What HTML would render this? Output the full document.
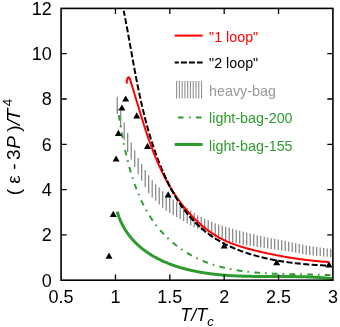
<!DOCTYPE html>
<html><head><meta charset="utf-8"><style>
html,body{margin:0;padding:0;background:#fff;}
svg{display:block;will-change:transform}
text{font-family:"Liberation Sans",sans-serif;}
</style></head><body>
<svg width="340" height="327" viewBox="0 0 340 327">
<rect width="340" height="327" fill="#fff"/>
<g stroke="#808080" stroke-width="1.2"><line x1="117.20" x2="117.20" y1="96.70" y2="113.90"/><line x1="120.70" x2="120.70" y1="110.50" y2="127.30"/><line x1="124.20" x2="124.20" y1="122.48" y2="139.95"/><line x1="127.70" x2="127.70" y1="132.72" y2="152.24"/><line x1="131.20" x2="131.20" y1="142.45" y2="159.39"/><line x1="134.70" x2="134.70" y1="150.18" y2="166.99"/><line x1="138.20" x2="138.20" y1="158.00" y2="174.30"/><line x1="141.70" x2="141.70" y1="164.11" y2="180.81"/><line x1="145.20" x2="145.20" y1="170.00" y2="187.00"/><line x1="148.70" x2="148.70" y1="175.35" y2="193.23"/><line x1="152.20" x2="152.20" y1="180.23" y2="197.38"/><line x1="155.70" x2="155.70" y1="184.50" y2="200.80"/><line x1="159.20" x2="159.20" y1="187.59" y2="204.60"/><line x1="162.70" x2="162.70" y1="191.20" y2="207.69"/><line x1="166.20" x2="166.20" y1="194.42" y2="210.67"/><line x1="169.70" x2="169.70" y1="197.10" y2="212.97"/><line x1="173.20" x2="173.20" y1="199.56" y2="215.26"/><line x1="176.70" x2="176.70" y1="201.87" y2="217.20"/><line x1="180.20" x2="180.20" y1="204.06" y2="219.10"/><line x1="183.70" x2="183.70" y1="206.21" y2="221.00"/><line x1="187.20" x2="187.20" y1="208.35" y2="223.30"/><line x1="190.70" x2="190.70" y1="210.55" y2="225.36"/><line x1="194.20" x2="194.20" y1="212.87" y2="227.25"/><line x1="197.70" x2="197.70" y1="215.30" y2="228.64"/><line x1="201.20" x2="201.20" y1="217.00" y2="230.34"/><line x1="204.70" x2="204.70" y1="218.80" y2="232.25"/><line x1="208.20" x2="208.20" y1="220.14" y2="234.20"/><line x1="211.70" x2="211.70" y1="221.74" y2="236.02"/><line x1="215.20" x2="215.20" y1="223.14" y2="237.54"/><line x1="218.70" x2="218.70" y1="224.53" y2="238.79"/><line x1="222.20" x2="222.20" y1="225.50" y2="239.91"/><line x1="225.70" x2="225.70" y1="226.80" y2="240.92"/><line x1="229.20" x2="229.20" y1="227.70" y2="241.82"/><line x1="232.70" x2="232.70" y1="228.80" y2="242.63"/><line x1="236.20" x2="236.20" y1="229.87" y2="243.36"/><line x1="239.70" x2="239.70" y1="230.68" y2="244.03"/><line x1="243.20" x2="243.20" y1="231.57" y2="244.65"/><line x1="246.70" x2="246.70" y1="232.50" y2="245.23"/><line x1="250.20" x2="250.20" y1="233.44" y2="245.78"/><line x1="253.70" x2="253.70" y1="234.33" y2="246.33"/><line x1="257.20" x2="257.20" y1="235.16" y2="246.88"/><line x1="260.70" x2="260.70" y1="235.94" y2="247.44"/><line x1="264.20" x2="264.20" y1="236.69" y2="247.99"/><line x1="267.70" x2="267.70" y1="237.42" y2="248.53"/><line x1="271.20" x2="271.20" y1="238.15" y2="249.05"/><line x1="274.70" x2="274.70" y1="238.86" y2="249.55"/><line x1="278.20" x2="278.20" y1="239.56" y2="250.05"/><line x1="281.70" x2="281.70" y1="240.28" y2="250.54"/><line x1="285.20" x2="285.20" y1="241.02" y2="251.05"/><line x1="288.70" x2="288.70" y1="241.81" y2="251.56"/><line x1="292.20" x2="292.20" y1="242.58" y2="252.08"/><line x1="295.70" x2="295.70" y1="243.31" y2="252.66"/><line x1="299.20" x2="299.20" y1="244.04" y2="253.29"/><line x1="302.70" x2="302.70" y1="244.74" y2="253.91"/><line x1="306.20" x2="306.20" y1="245.40" y2="254.50"/><line x1="309.70" x2="309.70" y1="246.00" y2="255.00"/><line x1="313.20" x2="313.20" y1="246.54" y2="255.41"/><line x1="316.70" x2="316.70" y1="247.04" y2="255.76"/><line x1="320.20" x2="320.20" y1="247.50" y2="256.09"/><line x1="323.70" x2="323.70" y1="247.95" y2="256.43"/><line x1="327.20" x2="327.20" y1="248.39" y2="256.79"/><line x1="330.70" x2="330.70" y1="248.80" y2="257.20"/></g>
<path d="M117.21 211.63 L117.40 212.27 L117.60 212.91 L117.80 213.54 L118.00 214.17 L118.21 214.79 L118.42 215.41 L118.64 216.03 L118.86 216.64 L119.08 217.25 L119.32 217.85 L119.55 218.45 L119.79 219.04 L120.03 219.63 L120.28 220.22 L120.53 220.80 L120.79 221.38 L121.05 221.96 L121.32 222.53 L121.59 223.10 L121.86 223.66 L122.14 224.22 L122.42 224.77 L122.71 225.32 L123.00 225.87 L123.29 226.41 L123.59 226.95 L123.89 227.49 L124.20 228.02 L124.51 228.55 L124.82 229.07 L125.14 229.59 L125.46 230.11 L125.78 230.62 L126.11 231.13 L126.45 231.63 L126.78 232.13 L127.12 232.63 L127.47 233.12 L127.82 233.61 L128.17 234.10 L128.52 234.58 L128.88 235.06 L129.24 235.54 L129.61 236.01 L129.98 236.48 L130.35 236.94 L130.73 237.40 L131.10 237.86 L131.49 238.31 L131.87 238.76 L132.26 239.21 L132.65 239.65 L133.05 240.09 L133.45 240.52 L133.85 240.96 L134.26 241.39 L134.67 241.81 L135.08 242.23 L135.49 242.65 L135.91 243.07 L136.33 243.48 L136.75 243.89 L137.18 244.29 L137.61 244.69 L138.04 245.09 L138.48 245.48 L138.92 245.88 L139.36 246.26 L139.80 246.65 L140.25 247.03 L140.70 247.41 L141.15 247.78 L141.60 248.16 L142.06 248.52 L142.52 248.89 L142.98 249.25 L143.45 249.61 L143.92 249.97 L144.39 250.32 L144.86 250.67 L145.34 251.02 L145.81 251.36 L146.29 251.70 L146.78 252.04 L147.26 252.37 L147.75 252.70 L148.24 253.03 L148.73 253.35 L149.22 253.68 L149.72 253.99 L150.22 254.31 L150.72 254.62 L151.22 254.93 L151.72 255.24 L152.23 255.54 L152.74 255.85 L153.25 256.14 L153.76 256.44 L154.28 256.73 L154.79 257.02 L155.31 257.31 L155.83 257.59 L156.35 257.87 L156.88 258.15 L157.40 258.43 L157.93 258.70 L158.46 258.97 L158.99 259.24 L159.52 259.50 L160.06 259.76 L160.59 260.02 L161.13 260.28 L161.67 260.53 L162.21 260.78 L162.75 261.03 L163.29 261.28 L163.84 261.52 L164.38 261.76 L164.93 262.00 L165.48 262.24 L166.03 262.47 L166.58 262.70 L167.13 262.93 L167.69 263.15 L168.24 263.37 L168.80 263.60 L169.36 263.81 L169.91 264.03 L170.47 264.24 L171.03 264.45 L171.60 264.66 L172.16 264.87 L172.72 265.07 L173.29 265.27 L173.85 265.47 L174.42 265.66 L174.99 265.86 L175.55 266.05 L176.12 266.24 L176.69 266.42 L177.26 266.61 L177.83 266.79 L178.41 266.97 L178.98 267.15 L179.55 267.32 L180.13 267.50 L180.70 267.67 L181.28 267.84 L181.85 268.01 L182.43 268.17 L183.01 268.33 L183.59 268.49 L184.17 268.65 L184.75 268.81 L185.33 268.96 L185.91 269.11 L186.49 269.26 L187.07 269.41 L187.66 269.56 L188.24 269.70 L188.82 269.84 L189.41 269.98 L189.99 270.12 L190.58 270.26 L191.17 270.39 L191.76 270.52 L192.34 270.65 L192.93 270.78 L193.52 270.91 L194.11 271.03 L194.70 271.15 L195.29 271.27 L195.89 271.39 L196.48 271.51 L197.07 271.63 L197.66 271.74 L198.26 271.85 L198.85 271.96 L199.45 272.07 L200.04 272.18 L200.64 272.28 L201.24 272.38 L201.83 272.48 L202.43 272.58 L203.03 272.68 L203.63 272.78 L204.23 272.87 L204.82 272.97 L205.42 273.06 L206.02 273.15 L206.63 273.24 L207.23 273.32 L207.83 273.41 L208.43 273.49 L209.03 273.57 L209.64 273.65 L210.24 273.73 L210.84 273.81 L211.45 273.89 L212.05 273.96 L212.66 274.04 L213.26 274.11 L213.87 274.18 L214.47 274.25 L215.08 274.31 L215.69 274.38 L216.30 274.45 L216.90 274.51 L217.51 274.57 L218.12 274.63 L218.73 274.69 L219.34 274.75 L219.95 274.81 L220.56 274.86 L221.17 274.92 L221.78 274.97 L222.39 275.02 L223.00 275.07 L223.61 275.12 L224.22 275.17 L224.83 275.22 L225.44 275.27 L226.05 275.31 L226.67 275.36 L227.28 275.40 L227.89 275.44 L228.51 275.48 L229.12 275.52 L229.73 275.56 L230.35 275.60 L230.96 275.63 L231.57 275.67 L232.19 275.70 L232.80 275.74 L233.42 275.77 L234.03 275.80 L234.65 275.83 L235.26 275.86 L235.88 275.89 L236.49 275.92 L237.11 275.95 L237.72 275.97 L238.34 276.00 L238.96 276.02 L239.57 276.05 L240.19 276.07 L240.80 276.09 L241.42 276.12 L242.04 276.14 L242.65 276.16 L243.27 276.18 L243.89 276.19 L244.50 276.21 L245.12 276.23 L245.74 276.25 L246.35 276.26 L246.97 276.28 L247.59 276.29 L248.20 276.30 L248.82 276.32 L249.44 276.33 L250.06 276.34 L250.67 276.35 L251.29 276.36 L251.91 276.38 L252.52 276.39 L253.14 276.39 L253.76 276.40 L254.38 276.41 L254.99 276.42 L255.61 276.43 L256.23 276.43 L256.84 276.44 L257.46 276.45 L258.08 276.45 L258.69 276.46 L259.31 276.46 L259.93 276.47 L260.54 276.47 L261.16 276.48 L261.77 276.48 L262.39 276.48 L263.01 276.49 L263.62 276.49 L264.24 276.49 L264.85 276.49 L265.47 276.50 L266.08 276.50 L266.70 276.50 L267.31 276.50 L267.93 276.50 L268.54 276.50 L269.16 276.50 L269.77 276.51 L270.38 276.51 L271.00 276.51 L271.61 276.51 L272.22 276.51 L272.84 276.51 L273.45 276.51 L274.06 276.51 L274.68 276.51 L275.29 276.51 L275.90 276.51 L276.51 276.51 L277.12 276.51 L277.73 276.51 L278.34 276.51 L278.95 276.51 L279.56 276.51 L280.17 276.51 L280.78 276.51 L281.39 276.52 L282.00 276.52 L282.61 276.52 L283.22 276.52 L283.83 276.52 L284.44 276.52 L285.04 276.53 L285.65 276.53 L286.26 276.53 L286.86 276.53 L287.47 276.54 L288.07 276.54 L288.68 276.54 L289.28 276.55 L289.89 276.55 L290.49 276.56 L291.10 276.56 L291.70 276.57 L292.30 276.57 L292.90 276.58 L293.50 276.59 L294.11 276.59 L294.71 276.60 L295.31 276.61 L295.91 276.62 L296.51 276.63 L297.11 276.64 L297.70 276.65 L298.30 276.66 L298.90 276.67 L299.50 276.68 L300.09 276.69 L300.69 276.70 L301.29 276.72 L301.88 276.73 L302.48 276.75 L303.07 276.76 L303.66 276.78 L304.26 276.79 L304.85 276.81 L305.44 276.83 L306.03 276.85 L306.62 276.87 L307.21 276.89 L307.80 276.91 L308.39 276.93 L308.98 276.95 L309.57 276.98 L310.15 277.00 L310.74 277.02 L311.33 277.05 L311.91 277.08 L312.50 277.10 L313.08 277.13 L313.66 277.16 L314.25 277.19 L314.83 277.22 L315.41 277.26 L315.99 277.29 L316.57 277.32 L317.15 277.36 L317.73 277.39 L318.31 277.43 L318.88 277.47 L319.46 277.51 L320.04 277.55 L320.61 277.59 L321.18 277.63 L321.76 277.67 L322.33 277.72 L322.90 277.76 L323.47 277.81 L324.04 277.86 L324.61 277.91 L325.18 277.96 L325.75 278.01 L326.32 278.06 L326.89 278.11 L327.45 278.17 L328.02 278.22 L328.58 278.28 L329.15 278.34 L329.71 278.40 L330.27 278.46 L330.83 278.52 L331.39 278.59 L331.95 278.65" fill="none" stroke="#2e9b2e" stroke-width="3"/>
<path d="M117.88 109.02 L117.94 109.37 L117.99 109.73 L118.05 110.08 L118.10 110.44 L118.16 110.80 L118.21 111.16 L118.27 111.52 L118.32 111.88 L118.38 112.24 L118.43 112.60 L118.49 112.96 L118.55 113.32 L118.60 113.68 L118.66 114.04 L118.72 114.41 L118.77 114.77 L118.83 115.14 L118.89 115.50 L118.94 115.87 L119.00 116.23 L119.06 116.60 L119.12 116.97 L119.17 117.33 L119.23 117.70 L119.29 118.07 L119.35 118.44 L119.41 118.81 L119.47 119.18 L119.53 119.55 L119.59 119.92 L119.65 120.29 L119.71 120.66 L119.77 121.03 L119.83 121.41 L119.89 121.78 L119.95 122.15 L120.01 122.53 L120.07 122.90 L120.13 123.28 L120.19 123.65 L120.26 124.03 L120.32 124.40 L120.38 124.78 L120.44 125.15 L120.51 125.53 L120.57 125.91 L120.63 126.29 L120.70 126.67 L120.76 127.04 L120.83 127.42 L120.89 127.80 L120.96 128.18 L121.02 128.56 L121.09 128.94 L121.15 129.32 L121.22 129.70 L121.28 130.09 L121.35 130.47 L121.42 130.85 L121.49 131.23 L121.55 131.61 L121.62 132.00 L121.69 132.38 L121.76 132.76 L121.83 133.15 L121.90 133.53 L121.96 133.92 L122.03 134.30 L122.10 134.69 L122.17 135.07 L122.25 135.46 L122.32 135.84 L122.39 136.23 L122.46 136.62 L122.53 137.00 L122.60 137.39 L122.68 137.78 L122.75 138.16 L122.82 138.55 L122.90 138.94 L122.97 139.33 L123.05 139.71 L123.12 140.10 L123.20 140.49 L123.27 140.88 L123.35 141.27 L123.42 141.66 L123.50 142.05 L123.58 142.44 L123.66 142.83 L123.73 143.22 L123.81 143.61 L123.89 144.00 L123.97 144.39 L124.05 144.78 L124.13 145.17 L124.21 145.56 L124.29 145.95 L124.37 146.34 L124.45 146.73 L124.53 147.12 L124.62 147.51 L124.70 147.91 L124.78 148.30 L124.87 148.69 L124.95 149.08 L125.04 149.47 L125.12 149.86 L125.21 150.26 L125.29 150.65 L125.38 151.04 L125.46 151.43 L125.55 151.82 L125.64 152.22 L125.73 152.61 L125.82 153.00 L125.90 153.39 L125.99 153.79 L126.08 154.18 L126.17 154.57 L126.27 154.96 L126.36 155.36 L126.45 155.75 L126.54 156.14 L126.63 156.54 L126.73 156.93 L126.82 157.32 L126.92 157.71 L127.01 158.11 L127.11 158.50 L127.20 158.89 L127.30 159.28 L127.39 159.68 L127.49 160.07 L127.59 160.46 L127.69 160.85 L127.79 161.25 L127.89 161.64 L127.99 162.03 L128.09 162.42 L128.19 162.81 L128.29 163.21 L128.39 163.60 L128.49 163.99 L128.60 164.38 L128.70 164.77 L128.80 165.16 L128.91 165.56 L129.01 165.95 L129.12 166.34 L129.23 166.73 L129.33 167.12 L129.44 167.51 L129.55 167.90 L129.66 168.29 L129.77 168.68 L129.88 169.07 L129.99 169.46 L130.10 169.85 L130.21 170.24 L130.32 170.63 L130.44 171.02 L130.55 171.41 L130.66 171.80 L130.78 172.19 L130.89 172.58 L131.01 172.97 L131.13 173.35 L131.24 173.74 L131.36 174.13 L131.48 174.52 L131.60 174.91 L131.72 175.29 L131.84 175.68 L131.96 176.07 L132.08 176.45 L132.20 176.84 L132.32 177.23 L132.45 177.61 L132.57 178.00 L132.70 178.38 L132.82 178.77 L132.95 179.15 L133.07 179.54 L133.20 179.92 L133.33 180.30 L133.46 180.69 L133.59 181.07 L133.72 181.45 L133.85 181.84 L133.98 182.22 L134.11 182.60 L134.24 182.98 L134.38 183.36 L134.51 183.74 L134.64 184.12 L134.78 184.50 L134.92 184.88 L135.05 185.26 L135.19 185.64 L135.33 186.02 L135.47 186.40 L135.61 186.78 L135.75 187.16 L135.89 187.53 L136.03 187.91 L136.17 188.29 L136.32 188.66 L136.46 189.04 L136.60 189.42 L136.75 189.79 L136.90 190.16 L137.04 190.54 L137.19 190.91 L137.34 191.29 L137.49 191.66 L137.64 192.03 L137.79 192.40 L137.94 192.77 L138.09 193.15 L138.24 193.52 L138.40 193.89 L138.55 194.26 L138.71 194.63 L138.86 194.99 L139.02 195.36 L139.18 195.73 L139.34 196.10 L139.49 196.46 L139.65 196.83 L139.81 197.20 L139.98 197.56 L140.14 197.93 L140.30 198.29 L140.47 198.65 L140.63 199.02 L140.80 199.38 L140.96 199.74 L141.13 200.10 L141.30 200.47 L141.46 200.83 L141.63 201.19 L141.80 201.55 L141.98 201.90 L142.15 202.26 L142.32 202.62 L142.49 202.98 L142.67 203.33 L142.84 203.69 L143.02 204.04 L143.20 204.40 L143.38 204.75 L143.55 205.11 L143.73 205.46 L143.91 205.81 L144.10 206.16 L144.28 206.51 L144.46 206.86 L144.64 207.21 L144.83 207.56 L145.02 207.91 L145.20 208.26 L145.39 208.61 L145.58 208.95 L145.77 209.30 L145.96 209.64 L146.15 209.99 L146.34 210.33 L146.53 210.67 L146.73 211.02 L146.92 211.36 L147.12 211.70 L147.31 212.04 L147.51 212.38 L147.71 212.72 L147.91 213.06 L148.11 213.39 L148.31 213.73 L148.51 214.07 L148.71 214.40 L148.92 214.73 L149.12 215.07 L149.33 215.40 L149.53 215.73 L149.74 216.06 L149.95 216.40 L150.16 216.73 L150.37 217.05 L150.58 217.38 L150.79 217.71 L151.01 218.04 L151.22 218.36 L151.44 218.69 L151.65 219.01 L151.87 219.33 L152.09 219.66 L152.31 219.98 L152.53 220.30 L152.75 220.62 L152.97 220.94 L153.19 221.26 L153.42 221.58 L153.64 221.89 L153.87 222.21 L154.10 222.52 L154.32 222.84 L154.55 223.15 L154.78 223.46 L155.01 223.77 L155.25 224.08 L155.48 224.39 L155.71 224.70 L155.95 225.01 L156.19 225.32 L156.42 225.62 L156.66 225.93 L156.90 226.23 L157.14 226.54 L157.38 226.84 L157.62 227.14 L157.87 227.44 L158.11 227.74 L158.36 228.04 L158.60 228.34 L158.85 228.64 L159.10 228.93 L159.35 229.23 L159.60 229.52 L159.85 229.81 L160.10 230.11 L160.36 230.40 L160.61 230.69 L160.87 230.98 L161.12 231.27 L161.38 231.55 L161.64 231.84 L161.90 232.13 L162.16 232.41 L162.42 232.70 L162.68 232.98 L162.94 233.26 L163.20 233.54 L163.47 233.82 L163.73 234.10 L164.00 234.38 L164.27 234.66 L164.54 234.93 L164.81 235.21 L165.08 235.48 L165.35 235.76 L165.62 236.03 L165.89 236.30 L166.17 236.57 L166.44 236.84 L166.72 237.11 L166.99 237.38 L167.27 237.64 L167.55 237.91 L167.83 238.17 L168.11 238.44 L168.39 238.70 L168.67 238.96 L168.95 239.22 L169.24 239.48 L169.52 239.74 L169.81 240.00 L170.09 240.26 L170.38 240.51 L170.67 240.77 L170.96 241.02 L171.25 241.28 L171.54 241.53 L171.83 241.78 L172.12 242.03 L172.41 242.28 L172.71 242.53 L173.00 242.77 L173.30 243.02 L173.59 243.26 L173.89 243.51 L174.19 243.75 L174.49 243.99 L174.79 244.23 L175.09 244.47 L175.39 244.71 L175.69 244.95 L175.99 245.19 L176.30 245.42 L176.60 245.66 L176.91 245.89 L177.21 246.13 L177.52 246.36 L177.83 246.59 L178.14 246.82 L178.44 247.05 L178.75 247.28 L179.07 247.50 L179.38 247.73 L179.69 247.95 L180.00 248.18 L180.32 248.40 L180.63 248.62 L180.95 248.84 L181.26 249.06 L181.58 249.28 L181.90 249.50 L182.21 249.71 L182.53 249.93 L182.85 250.14 L183.17 250.36 L183.49 250.57 L183.82 250.78 L184.14 250.99 L184.46 251.20 L184.78 251.41 L185.11 251.61 L185.43 251.82 L185.76 252.03 L186.09 252.23 L186.42 252.43 L186.74 252.63 L187.07 252.83 L187.40 253.03 L187.73 253.23 L188.06 253.43 L188.39 253.63 L188.73 253.82 L189.06 254.02 L189.39 254.21 L189.73 254.40 L190.06 254.59 L190.40 254.78 L190.73 254.97 L191.07 255.16 L191.41 255.34 L191.75 255.53 L192.09 255.71 L192.43 255.90 L192.77 256.08 L193.11 256.26 L193.45 256.44 L193.79 256.62 L194.13 256.80 L194.48 256.97 L194.82 257.15 L195.16 257.32 L195.51 257.50 L195.86 257.67 L196.20 257.84 L196.55 258.01 L196.90 258.18 L197.24 258.35 L197.59 258.52 L197.94 258.68 L198.29 258.85 L198.64 259.01 L198.99 259.17 L199.35 259.33 L199.70 259.49 L200.05 259.65 L200.40 259.81 L200.76 259.97 L201.11 260.12 L201.47 260.28 L201.82 260.43 L202.18 260.58 L202.54 260.73 L202.89 260.88 L203.25 261.03 L203.61 261.18 L203.97 261.33 L204.33 261.47 L204.69 261.62 L205.05 261.76 L205.41 261.90 L205.77 262.04 L206.13 262.18 L206.50 262.32 L206.86 262.46 L207.22 262.60 L207.59 262.73 L207.95 262.86 L208.32 263.00 L208.68 263.13 L209.05 263.26 L209.42 263.39 L209.78 263.52 L210.15 263.65 L210.52 263.78 L210.89 263.90 L211.26 264.03 L211.63 264.15 L212.00 264.27 L212.37 264.39 L212.74 264.51 L213.11 264.63 L213.48 264.75 L213.85 264.87 L214.23 264.99 L214.60 265.10 L214.97 265.22 L215.35 265.33 L215.72 265.44 L216.10 265.55 L216.47 265.66 L216.85 265.77 L217.23 265.88 L217.60 265.99 L217.98 266.10 L218.36 266.20 L218.74 266.31 L219.11 266.41 L219.49 266.51 L219.87 266.62 L220.25 266.72 L220.63 266.82 L221.01 266.92 L221.39 267.02 L221.78 267.11 L222.16 267.21 L222.54 267.30 L222.92 267.40 L223.30 267.49 L223.69 267.59 L224.07 267.68 L224.45 267.77 L224.84 267.86 L225.22 267.95 L225.61 268.04 L225.99 268.12 L226.38 268.21 L226.77 268.30 L227.15 268.38 L227.54 268.47 L227.93 268.55 L228.31 268.63 L228.70 268.71 L229.09 268.79 L229.48 268.87 L229.87 268.95 L230.26 269.03 L230.65 269.11 L231.04 269.18 L231.43 269.26 L231.82 269.34 L232.21 269.41 L232.60 269.48 L232.99 269.56 L233.38 269.63 L233.77 269.70 L234.16 269.77 L234.56 269.84 L234.95 269.91 L235.34 269.98 L235.74 270.04 L236.13 270.11 L236.52 270.18 L236.92 270.24 L237.31 270.31 L237.71 270.37 L238.10 270.43 L238.50 270.49 L238.89 270.56 L239.29 270.62 L239.68 270.68 L240.08 270.74 L240.48 270.79 L240.87 270.85 L241.27 270.91 L241.67 270.97 L242.06 271.02 L242.46 271.08 L242.86 271.13 L243.26 271.19 L243.66 271.24 L244.06 271.29 L244.45 271.34 L244.85 271.40 L245.25 271.45 L245.65 271.50 L246.05 271.55 L246.45 271.59 L246.85 271.64 L247.25 271.69 L247.65 271.74 L248.05 271.78 L248.45 271.83 L248.85 271.87 L249.25 271.92 L249.66 271.96 L250.06 272.01 L250.46 272.05 L250.86 272.09 L251.26 272.13 L251.66 272.17 L252.07 272.21 L252.47 272.25 L252.87 272.29 L253.27 272.33 L253.68 272.37 L254.08 272.41 L254.48 272.44 L254.89 272.48 L255.29 272.52 L255.69 272.55 L256.10 272.59 L256.50 272.62 L256.90 272.66 L257.31 272.69 L257.71 272.72 L258.11 272.76 L258.52 272.79 L258.92 272.82 L259.33 272.85 L259.73 272.88 L260.14 272.91 L260.54 272.94 L260.95 272.97 L261.35 273.00 L261.76 273.03 L262.16 273.06 L262.57 273.08 L262.97 273.11 L263.38 273.14 L263.78 273.16 L264.19 273.19 L264.59 273.21 L265.00 273.24 L265.40 273.26 L265.81 273.29 L266.21 273.31 L266.62 273.33 L267.03 273.36 L267.43 273.38 L267.84 273.40 L268.24 273.42 L268.65 273.44 L269.05 273.46 L269.46 273.49 L269.87 273.51 L270.27 273.53 L270.68 273.54 L271.08 273.56 L271.49 273.58 L271.90 273.60 L272.30 273.62 L272.71 273.64 L273.11 273.65 L273.52 273.67 L273.93 273.69 L274.33 273.71 L274.74 273.72 L275.14 273.74 L275.55 273.75 L275.95 273.77 L276.36 273.78 L276.77 273.80 L277.17 273.81 L277.58 273.83 L277.98 273.84 L278.39 273.85 L278.79 273.87 L279.20 273.88 L279.60 273.89 L280.01 273.91 L280.42 273.92 L280.82 273.93 L281.23 273.94 L281.63 273.96 L282.04 273.97 L282.44 273.98 L282.85 273.99 L283.25 274.00 L283.65 274.01 L284.06 274.02 L284.46 274.03 L284.87 274.04 L285.27 274.05 L285.68 274.06 L286.08 274.07 L286.48 274.08 L286.89 274.09 L287.29 274.10 L287.70 274.11 L288.10 274.12 L288.50 274.12 L288.91 274.13 L289.31 274.14 L289.71 274.15 L290.11 274.16 L290.52 274.17 L290.92 274.17 L291.32 274.18 L291.72 274.19 L292.13 274.20 L292.53 274.20 L292.93 274.21 L293.33 274.22 L293.73 274.22 L294.13 274.23 L294.54 274.24 L294.94 274.25 L295.34 274.25 L295.74 274.26 L296.14 274.27 L296.54 274.27 L296.94 274.28 L297.34 274.28 L297.74 274.29 L298.14 274.30 L298.54 274.30 L298.94 274.31 L299.33 274.32 L299.73 274.32 L300.13 274.33 L300.53 274.33 L300.93 274.34 L301.33 274.35 L301.72 274.35 L302.12 274.36 L302.52 274.37 L302.91 274.37 L303.31 274.38 L303.71 274.38 L304.10 274.39 L304.50 274.40 L304.89 274.40 L305.29 274.41 L305.68 274.42 L306.08 274.42 L306.47 274.43 L306.87 274.44 L307.26 274.44 L307.66 274.45 L308.05 274.46 L308.44 274.46 L308.84 274.47 L309.23 274.48 L309.62 274.49 L310.01 274.49 L310.40 274.50 L310.80 274.51 L311.19 274.52 L311.58 274.52 L311.97 274.53 L312.36 274.54 L312.75 274.55 L313.14 274.56 L313.53 274.56 L313.92 274.57 L314.30 274.58 L314.69 274.59 L315.08 274.60 L315.47 274.61 L315.86 274.62 L316.24 274.63 L316.63 274.64 L317.02 274.65 L317.40 274.66 L317.79 274.67 L318.17 274.68 L318.56 274.69 L318.94 274.70 L319.33 274.71 L319.71 274.72 L320.09 274.73 L320.48 274.74 L320.86 274.76 L321.24 274.77 L321.62 274.78 L322.00 274.79 L322.38 274.81 L322.77 274.82 L323.15 274.83 L323.53 274.85 L323.90 274.86 L324.28 274.87 L324.66 274.89 L325.04 274.90 L325.42 274.92 L325.80 274.93 L326.17 274.95 L326.55 274.97 L326.93 274.98 L327.30 275.00 L327.68 275.02 L328.05 275.03 L328.43 275.05 L328.80 275.07 L329.17 275.09 L329.55 275.10 L329.92 275.12 L330.29 275.14 L330.66 275.16 L331.03 275.18 L331.40 275.20 L331.78 275.22 L332.14 275.24 L332.51 275.26" fill="none" stroke="#2e9b2e" stroke-width="2" stroke-dasharray="1.60 5.30 5.70 5.08" stroke-dashoffset="0.80"/>
<g fill="#000"><path d="M125.70 95.40 L122.20 101.60 L129.20 101.60 Z"/><path d="M121.90 104.40 L118.40 110.60 L125.40 110.60 Z"/><path d="M136.70 112.20 L133.20 118.40 L140.20 118.40 Z"/><path d="M118.40 129.80 L114.90 136.00 L121.90 136.00 Z"/><path d="M147.50 142.70 L144.00 148.90 L151.00 148.90 Z"/><path d="M116.10 155.40 L112.60 161.60 L119.60 161.60 Z"/><path d="M168.20 191.30 L164.70 197.50 L171.70 197.50 Z"/><path d="M113.25 210.70 L109.75 216.90 L116.75 216.90 Z"/><path d="M109.00 252.50 L105.50 258.70 L112.50 258.70 Z"/><path d="M224.20 242.30 L220.70 248.50 L227.70 248.50 Z"/><path d="M276.70 259.00 L273.20 265.20 L280.20 265.20 Z"/><path d="M329.00 261.30 L325.50 267.50 L332.50 267.50 Z"/></g>
<path d="M123.72 10.72 L123.90 11.63 L124.08 12.54 L124.26 13.45 L124.44 14.37 L124.62 15.28 L124.80 16.19 L124.97 17.10 L125.15 18.02 L125.32 18.93 L125.50 19.84 L125.67 20.75 L125.84 21.66 L126.02 22.57 L126.19 23.49 L126.36 24.40 L126.53 25.31 L126.70 26.22 L126.87 27.13 L127.04 28.04 L127.20 28.95 L127.37 29.87 L127.54 30.78 L127.71 31.69 L127.87 32.60 L128.04 33.51 L128.20 34.42 L128.37 35.33 L128.53 36.24 L128.70 37.15 L128.86 38.06 L129.03 38.97 L129.19 39.88 L129.35 40.79 L129.52 41.70 L129.68 42.61 L129.84 43.52 L130.01 44.43 L130.17 45.34 L130.33 46.25 L130.49 47.16 L130.66 48.07 L130.82 48.98 L130.98 49.89 L131.15 50.79 L131.31 51.70 L131.47 52.61 L131.63 53.52 L131.80 54.43 L131.96 55.34 L132.12 56.25 L132.29 57.16 L132.45 58.06 L132.62 58.97 L132.78 59.88 L132.95 60.79 L133.11 61.70 L133.28 62.60 L133.44 63.51 L133.61 64.42 L133.77 65.33 L133.94 66.23 L134.11 67.14 L134.28 68.05 L134.45 68.95 L134.61 69.86 L134.78 70.77 L134.95 71.67 L135.13 72.58 L135.30 73.49 L135.47 74.39 L135.64 75.30 L135.81 76.21 L135.99 77.11 L136.16 78.02 L136.34 78.92 L136.51 79.83 L136.69 80.74 L136.87 81.64 L137.05 82.55 L137.23 83.45 L137.41 84.36 L137.59 85.26 L137.77 86.17 L137.96 87.07 L138.14 87.98 L138.32 88.88 L138.51 89.79 L138.70 90.69 L138.89 91.59 L139.08 92.50 L139.27 93.40 L139.46 94.31 L139.65 95.21 L139.84 96.11 L140.04 97.02 L140.24 97.92 L140.43 98.82 L140.63 99.73 L140.83 100.63 L141.04 101.53 L141.24 102.44 L141.44 103.34 L141.65 104.24 L141.86 105.14 L142.06 106.05 L142.27 106.95 L142.49 107.85 L142.70 108.75 L142.91 109.66 L143.13 110.56 L143.35 111.46 L143.57 112.36 L143.79 113.26 L144.01 114.16 L144.23 115.06 L144.46 115.96 L144.69 116.87 L144.92 117.77 L145.15 118.67 L145.38 119.57 L145.61 120.47 L145.85 121.37 L146.09 122.27 L146.33 123.17 L146.57 124.07 L146.82 124.97 L147.06 125.87 L147.31 126.77 L147.56 127.67 L147.81 128.57 L148.06 129.46 L148.32 130.36 L148.58 131.26 L148.84 132.16 L149.10 133.06 L149.36 133.96 L149.63 134.86 L149.90 135.75 L150.17 136.65 L150.44 137.55 L150.72 138.45 L151.00 139.34 L151.28 140.24 L151.56 141.14 L151.84 142.04 L152.13 142.93 L152.42 143.83 L152.71 144.73 L153.01 145.62 L153.30 146.52 L153.60 147.42 L153.90 148.31 L154.21 149.21 L154.51 150.10 L154.82 151.00 L155.14 151.89 L155.45 152.79 L155.77 153.68 L156.09 154.57 L156.41 155.47 L156.73 156.36 L157.06 157.25 L157.39 158.14 L157.73 159.03 L158.06 159.92 L158.40 160.81 L158.74 161.69 L159.09 162.58 L159.44 163.46 L159.79 164.35 L160.14 165.23 L160.50 166.11 L160.86 166.99 L161.22 167.87 L161.58 168.75 L161.95 169.62 L162.32 170.50 L162.70 171.37 L163.08 172.24 L163.46 173.11 L163.84 173.97 L164.23 174.84 L164.62 175.70 L165.01 176.56 L165.41 177.42 L165.81 178.28 L166.22 179.14 L166.62 179.99 L167.03 180.84 L167.45 181.69 L167.86 182.54 L168.28 183.38 L168.71 184.22 L169.14 185.06 L169.57 185.90 L170.00 186.73 L170.44 187.56 L170.88 188.39 L171.33 189.22 L171.77 190.04 L172.23 190.86 L172.68 191.68 L173.14 192.49 L173.60 193.30 L174.07 194.11 L174.54 194.91 L175.02 195.72 L175.50 196.51 L175.98 197.31 L176.46 198.10 L176.95 198.89 L177.45 199.67 L177.94 200.46 L178.45 201.23 L178.95 202.01 L179.46 202.78 L179.97 203.54 L180.49 204.31 L181.01 205.06 L181.54 205.82 L182.07 206.57 L182.60 207.32 L183.14 208.06 L183.68 208.80 L184.23 209.53 L184.78 210.26 L185.33 210.99 L185.89 211.71 L186.45 212.43 L187.02 213.14 L187.59 213.85 L188.17 214.55 L188.75 215.25 L189.33 215.94 L189.92 216.63 L190.51 217.32 L191.11 218.00 L191.71 218.67 L192.32 219.34 L192.93 220.01 L193.55 220.67 L194.17 221.32 L194.79 221.97 L195.42 222.61 L196.06 223.25 L196.70 223.89 L197.34 224.51 L197.99 225.14 L198.64 225.75 L199.30 226.36 L199.96 226.97 L200.63 227.57 L201.30 228.16 L201.98 228.75 L202.66 229.33 L203.34 229.91 L204.04 230.48 L204.73 231.05 L205.43 231.60 L206.14 232.16 L206.85 232.70 L207.57 233.25 L208.29 233.78 L209.01 234.31 L209.74 234.83 L210.47 235.35 L211.21 235.86 L211.95 236.37 L212.70 236.87 L213.45 237.37 L214.21 237.85 L214.97 238.34 L215.73 238.82 L216.50 239.29 L217.27 239.76 L218.05 240.22 L218.83 240.68 L219.61 241.13 L220.40 241.57 L221.19 242.01 L221.99 242.45 L222.78 242.88 L223.59 243.31 L224.39 243.73 L225.20 244.14 L226.02 244.55 L226.83 244.95 L227.65 245.35 L228.48 245.75 L229.30 246.14 L230.13 246.52 L230.97 246.90 L231.81 247.28 L232.65 247.64 L233.49 248.01 L234.33 248.37 L235.18 248.73 L236.04 249.08 L236.89 249.42 L237.75 249.76 L238.61 250.10 L239.47 250.43 L240.34 250.76 L241.21 251.08 L242.08 251.40 L242.95 251.71 L243.83 252.02 L244.71 252.33 L245.59 252.63 L246.47 252.92 L247.36 253.22 L248.24 253.50 L249.13 253.79 L250.03 254.07 L250.92 254.34 L251.82 254.61 L252.72 254.88 L253.62 255.14 L254.52 255.40 L255.42 255.65 L256.33 255.90 L257.24 256.15 L258.15 256.39 L259.06 256.63 L259.97 256.86 L260.89 257.10 L261.80 257.32 L262.72 257.55 L263.64 257.76 L264.56 257.98 L265.48 258.19 L266.40 258.40 L267.33 258.60 L268.25 258.80 L269.18 259.00 L270.11 259.20 L271.04 259.39 L271.97 259.57 L272.90 259.76 L273.83 259.94 L274.76 260.11 L275.69 260.29 L276.63 260.46 L277.56 260.62 L278.50 260.78 L279.43 260.94 L280.37 261.10 L281.31 261.26 L282.24 261.41 L283.18 261.55 L284.12 261.70 L285.06 261.84 L286.00 261.98 L286.94 262.11 L287.87 262.24 L288.81 262.37 L289.75 262.50 L290.69 262.62 L291.63 262.74 L292.57 262.86 L293.51 262.98 L294.45 263.09 L295.39 263.20 L296.33 263.31 L297.26 263.41 L298.20 263.51 L299.14 263.61 L300.07 263.71 L301.01 263.80 L301.95 263.89 L302.88 263.98 L303.82 264.07 L304.75 264.16 L305.68 264.24 L306.62 264.32 L307.55 264.39 L308.48 264.47 L309.41 264.54 L310.33 264.61 L311.26 264.68 L312.19 264.75 L313.11 264.81 L314.04 264.88 L314.96 264.94 L315.88 264.99 L316.80 265.05 L317.72 265.10 L318.64 265.16 L319.55 265.21 L320.47 265.26 L321.38 265.30 L322.29 265.35 L323.20 265.39 L324.11 265.43 L325.01 265.47 L325.92 265.51 L326.82 265.55 L327.72 265.58 L328.62 265.62" fill="none" stroke="#000" stroke-width="2" stroke-dasharray="6.05 2.38" stroke-dashoffset="0.9"/>
<path d="M126.88 82.76 L126.76 82.27 L126.72 81.72 L126.75 81.13 L126.83 80.53 L126.97 79.92 L127.16 79.33 L127.37 78.78 L127.62 78.28 L127.88 77.87 L128.15 77.55 L128.43 77.34 L128.69 77.27 L128.95 77.34 L129.18 77.54 L129.40 77.83 L129.60 78.21 L129.78 78.66 L129.95 79.14 L130.12 79.65 L130.28 80.17 L130.44 80.68 L130.61 81.19 L130.77 81.70 L130.93 82.21 L131.09 82.72 L131.25 83.23 L131.41 83.74 L131.57 84.25 L131.73 84.76 L131.88 85.26 L132.04 85.77 L132.20 86.28 L132.35 86.78 L132.51 87.28 L132.67 87.79 L132.82 88.29 L132.97 88.79 L133.13 89.29 L133.28 89.80 L133.43 90.30 L133.59 90.80 L133.74 91.30 L133.89 91.79 L134.04 92.29 L134.19 92.79 L134.34 93.29 L134.50 93.78 L134.65 94.28 L134.79 94.78 L134.94 95.27 L135.09 95.77 L135.24 96.26 L135.39 96.76 L135.54 97.25 L135.69 97.75 L135.84 98.24 L135.98 98.73 L136.13 99.22 L136.28 99.72 L136.43 100.21 L136.57 100.70 L136.72 101.19 L136.87 101.68 L137.01 102.18 L137.16 102.67 L137.31 103.16 L137.46 103.65 L137.60 104.14 L137.75 104.63 L137.90 105.12 L138.04 105.61 L138.19 106.10 L138.34 106.59 L138.48 107.08 L138.63 107.57 L138.78 108.06 L138.92 108.54 L139.07 109.03 L139.22 109.52 L139.36 110.01 L139.51 110.50 L139.66 110.99 L139.81 111.48 L139.95 111.97 L140.10 112.46 L140.25 112.95 L140.40 113.44 L140.55 113.93 L140.70 114.42 L140.85 114.90 L141.00 115.39 L141.15 115.88 L141.30 116.37 L141.45 116.86 L141.60 117.35 L141.75 117.84 L141.90 118.33 L142.05 118.82 L142.20 119.31 L142.35 119.80 L142.50 120.29 L142.66 120.78 L142.81 121.27 L142.96 121.76 L143.12 122.25 L143.27 122.74 L143.42 123.23 L143.58 123.72 L143.73 124.21 L143.89 124.69 L144.04 125.18 L144.20 125.67 L144.36 126.16 L144.51 126.65 L144.67 127.14 L144.83 127.63 L144.99 128.12 L145.14 128.61 L145.30 129.10 L145.46 129.58 L145.62 130.07 L145.78 130.56 L145.94 131.05 L146.10 131.54 L146.27 132.02 L146.43 132.51 L146.59 133.00 L146.75 133.49 L146.92 133.98 L147.08 134.46 L147.24 134.95 L147.41 135.44 L147.57 135.92 L147.74 136.41 L147.91 136.90 L148.07 137.38 L148.24 137.87 L148.41 138.36 L148.58 138.84 L148.75 139.33 L148.92 139.81 L149.09 140.30 L149.26 140.78 L149.43 141.27 L149.60 141.75 L149.78 142.24 L149.95 142.72 L150.12 143.20 L150.30 143.69 L150.47 144.17 L150.65 144.65 L150.82 145.14 L151.00 145.62 L151.18 146.10 L151.36 146.58 L151.54 147.07 L151.72 147.55 L151.90 148.03 L152.08 148.51 L152.26 148.99 L152.44 149.47 L152.63 149.95 L152.81 150.43 L152.99 150.91 L153.18 151.39 L153.37 151.87 L153.55 152.35 L153.74 152.83 L153.93 153.30 L154.12 153.78 L154.31 154.26 L154.50 154.74 L154.69 155.21 L154.88 155.69 L155.08 156.17 L155.27 156.64 L155.46 157.12 L155.66 157.59 L155.86 158.07 L156.05 158.54 L156.25 159.01 L156.45 159.49 L156.65 159.96 L156.85 160.43 L157.05 160.90 L157.25 161.38 L157.46 161.85 L157.66 162.32 L157.87 162.79 L158.07 163.26 L158.28 163.73 L158.49 164.20 L158.69 164.67 L158.90 165.14 L159.11 165.60 L159.33 166.07 L159.54 166.54 L159.75 167.00 L159.97 167.47 L160.18 167.94 L160.40 168.40 L160.61 168.87 L160.83 169.33 L161.05 169.79 L161.27 170.26 L161.49 170.72 L161.71 171.18 L161.94 171.64 L162.16 172.11 L162.38 172.57 L162.61 173.03 L162.84 173.49 L163.07 173.95 L163.30 174.40 L163.53 174.86 L163.76 175.32 L163.99 175.78 L164.22 176.23 L164.46 176.69 L164.69 177.14 L164.93 177.60 L165.17 178.05 L165.41 178.51 L165.65 178.96 L165.89 179.41 L166.13 179.86 L166.37 180.32 L166.62 180.77 L166.86 181.22 L167.11 181.67 L167.36 182.11 L167.61 182.56 L167.86 183.01 L168.11 183.46 L168.36 183.90 L168.62 184.35 L168.87 184.79 L169.13 185.24 L169.38 185.68 L169.64 186.13 L169.90 186.57 L170.16 187.01 L170.43 187.45 L170.69 187.89 L170.96 188.33 L171.22 188.77 L171.49 189.21 L171.76 189.65 L172.03 190.08 L172.30 190.52 L172.57 190.96 L172.85 191.39 L173.12 191.83 L173.40 192.26 L173.68 192.69 L173.96 193.12 L174.24 193.55 L174.52 193.99 L174.80 194.42 L175.09 194.84 L175.37 195.27 L175.66 195.70 L175.95 196.13 L176.24 196.55 L176.53 196.98 L176.82 197.40 L177.12 197.83 L177.41 198.25 L177.71 198.67 L178.01 199.09 L178.31 199.51 L178.61 199.93 L178.91 200.35 L179.22 200.77 L179.52 201.19 L179.83 201.60 L180.14 202.02 L180.45 202.44 L180.76 202.85 L181.07 203.26 L181.39 203.68 L181.70 204.09 L182.02 204.50 L182.34 204.91 L182.66 205.32 L182.98 205.72 L183.31 206.13 L183.63 206.54 L183.96 206.94 L184.29 207.35 L184.62 207.75 L184.95 208.15 L185.28 208.56 L185.62 208.96 L185.95 209.36 L186.29 209.76 L186.63 210.15 L186.97 210.55 L187.31 210.95 L187.66 211.34 L188.00 211.74 L188.35 212.13 L188.70 212.52 L189.05 212.91 L189.40 213.30 L189.75 213.69 L190.10 214.08 L190.46 214.46 L190.82 214.85 L191.18 215.23 L191.54 215.61 L191.90 215.99 L192.26 216.37 L192.62 216.75 L192.99 217.13 L193.36 217.50 L193.73 217.88 L194.09 218.25 L194.47 218.62 L194.84 218.99 L195.21 219.36 L195.59 219.73 L195.97 220.09 L196.34 220.46 L196.72 220.82 L197.10 221.18 L197.49 221.54 L197.87 221.90 L198.25 222.25 L198.64 222.61 L199.03 222.96 L199.42 223.31 L199.81 223.66 L200.20 224.01 L200.59 224.35 L200.98 224.70 L201.38 225.04 L201.78 225.38 L202.17 225.72 L202.57 226.05 L202.97 226.39 L203.37 226.72 L203.78 227.05 L204.18 227.38 L204.59 227.71 L204.99 228.03 L205.40 228.36 L205.81 228.68 L206.22 229.00 L206.63 229.31 L207.04 229.63 L207.46 229.94 L207.87 230.25 L208.29 230.56 L208.70 230.87 L209.12 231.17 L209.54 231.47 L209.96 231.77 L210.38 232.07 L210.80 232.37 L211.23 232.66 L211.65 232.95 L212.08 233.24 L212.51 233.53 L212.93 233.81 L213.36 234.09 L213.79 234.37 L214.22 234.65 L214.66 234.92 L215.09 235.19 L215.53 235.46 L215.96 235.73 L216.40 235.99 L216.83 236.25 L217.27 236.51 L217.71 236.77 L218.15 237.02 L218.59 237.28 L219.04 237.52 L219.48 237.77 L219.93 238.01 L220.37 238.25 L220.82 238.49 L221.26 238.73 L221.71 238.96 L222.16 239.19 L222.61 239.42 L223.06 239.64 L223.52 239.86 L223.97 240.08 L224.42 240.30 L224.88 240.52 L225.33 240.73 L225.79 240.94 L226.25 241.14 L226.70 241.35 L227.16 241.55 L227.62 241.75 L228.09 241.95 L228.55 242.15 L229.01 242.34 L229.47 242.53 L229.94 242.72 L230.40 242.91 L230.87 243.09 L231.33 243.28 L231.80 243.46 L232.27 243.64 L232.74 243.82 L233.21 243.99 L233.68 244.17 L234.15 244.34 L234.62 244.51 L235.10 244.68 L235.57 244.84 L236.04 245.01 L236.52 245.17 L237.00 245.33 L237.47 245.49 L237.95 245.65 L238.43 245.81 L238.91 245.96 L239.39 246.12 L239.87 246.27 L240.35 246.42 L240.83 246.57 L241.31 246.72 L241.79 246.87 L242.28 247.01 L242.76 247.16 L243.25 247.30 L243.73 247.45 L244.22 247.59 L244.70 247.73 L245.19 247.87 L245.68 248.00 L246.17 248.14 L246.66 248.28 L247.15 248.41 L247.64 248.55 L248.13 248.68 L248.62 248.81 L249.11 248.95 L249.60 249.08 L250.10 249.21 L250.59 249.34 L251.08 249.47 L251.58 249.60 L252.07 249.72 L252.57 249.85 L253.07 249.98 L253.56 250.10 L254.06 250.23 L254.56 250.35 L255.06 250.48 L255.55 250.60 L256.05 250.73 L256.55 250.85 L257.05 250.97 L257.55 251.09 L258.06 251.21 L258.56 251.34 L259.06 251.46 L259.56 251.58 L260.06 251.69 L260.57 251.81 L261.07 251.93 L261.57 252.05 L262.08 252.16 L262.58 252.28 L263.09 252.40 L263.59 252.51 L264.10 252.63 L264.60 252.74 L265.11 252.85 L265.62 252.96 L266.12 253.08 L266.63 253.19 L267.14 253.30 L267.65 253.41 L268.16 253.52 L268.67 253.63 L269.17 253.74 L269.68 253.85 L270.19 253.95 L270.70 254.06 L271.21 254.17 L271.72 254.27 L272.23 254.38 L272.74 254.48 L273.26 254.58 L273.77 254.69 L274.28 254.79 L274.79 254.89 L275.30 254.99 L275.81 255.09 L276.33 255.19 L276.84 255.29 L277.35 255.39 L277.87 255.49 L278.38 255.59 L278.89 255.69 L279.41 255.78 L279.92 255.88 L280.43 255.97 L280.95 256.07 L281.46 256.16 L281.97 256.26 L282.49 256.35 L283.00 256.44 L283.52 256.53 L284.03 256.63 L284.55 256.72 L285.06 256.81 L285.58 256.89 L286.09 256.98 L286.61 257.07 L287.12 257.16 L287.64 257.25 L288.15 257.33 L288.67 257.42 L289.18 257.50 L289.70 257.59 L290.21 257.67 L290.73 257.75 L291.24 257.83 L291.76 257.92 L292.27 258.00 L292.79 258.08 L293.31 258.16 L293.82 258.24 L294.34 258.31 L294.85 258.39 L295.37 258.47 L295.88 258.55 L296.40 258.62 L296.91 258.70 L297.43 258.77 L297.94 258.84 L298.46 258.92 L298.97 258.99 L299.49 259.06 L300.00 259.13 L300.51 259.20 L301.03 259.27 L301.54 259.34 L302.06 259.41 L302.57 259.48 L303.08 259.55 L303.60 259.61 L304.11 259.68 L304.62 259.75 L305.14 259.81 L305.65 259.87 L306.16 259.94 L306.67 260.00 L307.19 260.06 L307.70 260.12 L308.21 260.18 L308.72 260.24 L309.23 260.30 L309.75 260.36 L310.26 260.42 L310.77 260.48 L311.28 260.53 L311.79 260.59 L312.30 260.64 L312.81 260.70 L313.32 260.75 L313.83 260.81 L314.33 260.86 L314.84 260.91 L315.35 260.96 L315.86 261.01 L316.37 261.06 L316.87 261.11 L317.38 261.16 L317.89 261.21 L318.39 261.25 L318.90 261.30 L319.40 261.34 L319.91 261.39 L320.41 261.43 L320.92 261.48 L321.42 261.52 L321.93 261.56 L322.43 261.60 L322.93 261.64 L323.43 261.68 L323.94 261.72 L324.44 261.76 L324.94 261.80 L325.44 261.84 L325.94 261.87 L326.44 261.91 L326.94 261.94 L327.44 261.98 L327.94 262.01 L328.43 262.04" fill="none" stroke="#ff0000" stroke-width="2" stroke-linecap="round"/>
<clipPath id="cl"><rect x="150" y="170" width="60" height="60"/></clipPath>
<path clip-path="url(#cl)" d="M123.72 10.72 L123.90 11.63 L124.08 12.54 L124.26 13.45 L124.44 14.37 L124.62 15.28 L124.80 16.19 L124.97 17.10 L125.15 18.02 L125.32 18.93 L125.50 19.84 L125.67 20.75 L125.84 21.66 L126.02 22.57 L126.19 23.49 L126.36 24.40 L126.53 25.31 L126.70 26.22 L126.87 27.13 L127.04 28.04 L127.20 28.95 L127.37 29.87 L127.54 30.78 L127.71 31.69 L127.87 32.60 L128.04 33.51 L128.20 34.42 L128.37 35.33 L128.53 36.24 L128.70 37.15 L128.86 38.06 L129.03 38.97 L129.19 39.88 L129.35 40.79 L129.52 41.70 L129.68 42.61 L129.84 43.52 L130.01 44.43 L130.17 45.34 L130.33 46.25 L130.49 47.16 L130.66 48.07 L130.82 48.98 L130.98 49.89 L131.15 50.79 L131.31 51.70 L131.47 52.61 L131.63 53.52 L131.80 54.43 L131.96 55.34 L132.12 56.25 L132.29 57.16 L132.45 58.06 L132.62 58.97 L132.78 59.88 L132.95 60.79 L133.11 61.70 L133.28 62.60 L133.44 63.51 L133.61 64.42 L133.77 65.33 L133.94 66.23 L134.11 67.14 L134.28 68.05 L134.45 68.95 L134.61 69.86 L134.78 70.77 L134.95 71.67 L135.13 72.58 L135.30 73.49 L135.47 74.39 L135.64 75.30 L135.81 76.21 L135.99 77.11 L136.16 78.02 L136.34 78.92 L136.51 79.83 L136.69 80.74 L136.87 81.64 L137.05 82.55 L137.23 83.45 L137.41 84.36 L137.59 85.26 L137.77 86.17 L137.96 87.07 L138.14 87.98 L138.32 88.88 L138.51 89.79 L138.70 90.69 L138.89 91.59 L139.08 92.50 L139.27 93.40 L139.46 94.31 L139.65 95.21 L139.84 96.11 L140.04 97.02 L140.24 97.92 L140.43 98.82 L140.63 99.73 L140.83 100.63 L141.04 101.53 L141.24 102.44 L141.44 103.34 L141.65 104.24 L141.86 105.14 L142.06 106.05 L142.27 106.95 L142.49 107.85 L142.70 108.75 L142.91 109.66 L143.13 110.56 L143.35 111.46 L143.57 112.36 L143.79 113.26 L144.01 114.16 L144.23 115.06 L144.46 115.96 L144.69 116.87 L144.92 117.77 L145.15 118.67 L145.38 119.57 L145.61 120.47 L145.85 121.37 L146.09 122.27 L146.33 123.17 L146.57 124.07 L146.82 124.97 L147.06 125.87 L147.31 126.77 L147.56 127.67 L147.81 128.57 L148.06 129.46 L148.32 130.36 L148.58 131.26 L148.84 132.16 L149.10 133.06 L149.36 133.96 L149.63 134.86 L149.90 135.75 L150.17 136.65 L150.44 137.55 L150.72 138.45 L151.00 139.34 L151.28 140.24 L151.56 141.14 L151.84 142.04 L152.13 142.93 L152.42 143.83 L152.71 144.73 L153.01 145.62 L153.30 146.52 L153.60 147.42 L153.90 148.31 L154.21 149.21 L154.51 150.10 L154.82 151.00 L155.14 151.89 L155.45 152.79 L155.77 153.68 L156.09 154.57 L156.41 155.47 L156.73 156.36 L157.06 157.25 L157.39 158.14 L157.73 159.03 L158.06 159.92 L158.40 160.81 L158.74 161.69 L159.09 162.58 L159.44 163.46 L159.79 164.35 L160.14 165.23 L160.50 166.11 L160.86 166.99 L161.22 167.87 L161.58 168.75 L161.95 169.62 L162.32 170.50 L162.70 171.37 L163.08 172.24 L163.46 173.11 L163.84 173.97 L164.23 174.84 L164.62 175.70 L165.01 176.56 L165.41 177.42 L165.81 178.28 L166.22 179.14 L166.62 179.99 L167.03 180.84 L167.45 181.69 L167.86 182.54 L168.28 183.38 L168.71 184.22 L169.14 185.06 L169.57 185.90 L170.00 186.73 L170.44 187.56 L170.88 188.39 L171.33 189.22 L171.77 190.04 L172.23 190.86 L172.68 191.68 L173.14 192.49 L173.60 193.30 L174.07 194.11 L174.54 194.91 L175.02 195.72 L175.50 196.51 L175.98 197.31 L176.46 198.10 L176.95 198.89 L177.45 199.67 L177.94 200.46 L178.45 201.23 L178.95 202.01 L179.46 202.78 L179.97 203.54 L180.49 204.31 L181.01 205.06 L181.54 205.82 L182.07 206.57 L182.60 207.32 L183.14 208.06 L183.68 208.80 L184.23 209.53 L184.78 210.26 L185.33 210.99 L185.89 211.71 L186.45 212.43 L187.02 213.14 L187.59 213.85 L188.17 214.55 L188.75 215.25 L189.33 215.94 L189.92 216.63 L190.51 217.32 L191.11 218.00 L191.71 218.67 L192.32 219.34 L192.93 220.01 L193.55 220.67 L194.17 221.32 L194.79 221.97 L195.42 222.61 L196.06 223.25 L196.70 223.89 L197.34 224.51 L197.99 225.14 L198.64 225.75 L199.30 226.36 L199.96 226.97 L200.63 227.57 L201.30 228.16 L201.98 228.75 L202.66 229.33 L203.34 229.91 L204.04 230.48 L204.73 231.05 L205.43 231.60 L206.14 232.16 L206.85 232.70 L207.57 233.25 L208.29 233.78 L209.01 234.31 L209.74 234.83 L210.47 235.35 L211.21 235.86 L211.95 236.37 L212.70 236.87 L213.45 237.37 L214.21 237.85 L214.97 238.34 L215.73 238.82 L216.50 239.29 L217.27 239.76 L218.05 240.22 L218.83 240.68 L219.61 241.13 L220.40 241.57 L221.19 242.01 L221.99 242.45 L222.78 242.88 L223.59 243.31 L224.39 243.73 L225.20 244.14 L226.02 244.55 L226.83 244.95 L227.65 245.35 L228.48 245.75 L229.30 246.14 L230.13 246.52 L230.97 246.90 L231.81 247.28 L232.65 247.64 L233.49 248.01 L234.33 248.37 L235.18 248.73 L236.04 249.08 L236.89 249.42 L237.75 249.76 L238.61 250.10 L239.47 250.43 L240.34 250.76 L241.21 251.08 L242.08 251.40 L242.95 251.71 L243.83 252.02 L244.71 252.33 L245.59 252.63 L246.47 252.92 L247.36 253.22 L248.24 253.50 L249.13 253.79 L250.03 254.07 L250.92 254.34 L251.82 254.61 L252.72 254.88 L253.62 255.14 L254.52 255.40 L255.42 255.65 L256.33 255.90 L257.24 256.15 L258.15 256.39 L259.06 256.63 L259.97 256.86 L260.89 257.10 L261.80 257.32 L262.72 257.55 L263.64 257.76 L264.56 257.98 L265.48 258.19 L266.40 258.40 L267.33 258.60 L268.25 258.80 L269.18 259.00 L270.11 259.20 L271.04 259.39 L271.97 259.57 L272.90 259.76 L273.83 259.94 L274.76 260.11 L275.69 260.29 L276.63 260.46 L277.56 260.62 L278.50 260.78 L279.43 260.94 L280.37 261.10 L281.31 261.26 L282.24 261.41 L283.18 261.55 L284.12 261.70 L285.06 261.84 L286.00 261.98 L286.94 262.11 L287.87 262.24 L288.81 262.37 L289.75 262.50 L290.69 262.62 L291.63 262.74 L292.57 262.86 L293.51 262.98 L294.45 263.09 L295.39 263.20 L296.33 263.31 L297.26 263.41 L298.20 263.51 L299.14 263.61 L300.07 263.71 L301.01 263.80 L301.95 263.89 L302.88 263.98 L303.82 264.07 L304.75 264.16 L305.68 264.24 L306.62 264.32 L307.55 264.39 L308.48 264.47 L309.41 264.54 L310.33 264.61 L311.26 264.68 L312.19 264.75 L313.11 264.81 L314.04 264.88 L314.96 264.94 L315.88 264.99 L316.80 265.05 L317.72 265.10 L318.64 265.16 L319.55 265.21 L320.47 265.26 L321.38 265.30 L322.29 265.35 L323.20 265.39 L324.11 265.43 L325.01 265.47 L325.92 265.51 L326.82 265.55 L327.72 265.58 L328.62 265.62" fill="none" stroke="#000" stroke-width="2" stroke-dasharray="6.05 2.38" stroke-dashoffset="0.9"/>
<rect x="61.1" y="8.4" width="271.79999999999995" height="271.8" fill="none" stroke="#000" stroke-width="1.6"/>
<g stroke="#000" stroke-width="1.3" fill="none"><path d="M115.46 280.20 v-5.6 M115.46 8.40 v5.6"/><path d="M169.82 280.20 v-5.6 M169.82 8.40 v5.6"/><path d="M224.18 280.20 v-5.6 M224.18 8.40 v5.6"/><path d="M278.54 280.20 v-5.6 M278.54 8.40 v5.6"/><path d="M61.10 234.90 h5.6 M332.90 234.90 h-5.6"/><path d="M61.10 189.60 h5.6 M332.90 189.60 h-5.6"/><path d="M61.10 144.30 h5.6 M332.90 144.30 h-5.6"/><path d="M61.10 99.00 h5.6 M332.90 99.00 h-5.6"/><path d="M61.10 53.70 h5.6 M332.90 53.70 h-5.6"/></g>
<g font-size="18" fill="#000"><text x="61.10" y="303.2" text-anchor="middle">0.5</text><text x="115.46" y="303.2" text-anchor="middle">1</text><text x="169.82" y="303.2" text-anchor="middle">1.5</text><text x="224.18" y="303.2" text-anchor="middle">2</text><text x="278.54" y="303.2" text-anchor="middle">2.5</text><text x="332.90" y="303.2" text-anchor="middle">3</text><text x="51.8" y="286.60" text-anchor="end">0</text><text x="51.8" y="241.30" text-anchor="end">2</text><text x="51.8" y="196.00" text-anchor="end">4</text><text x="51.8" y="150.70" text-anchor="end">6</text><text x="51.8" y="105.40" text-anchor="end">8</text><text x="51.8" y="60.10" text-anchor="end">10</text><text x="51.8" y="14.80" text-anchor="end">12</text></g>
<g font-size="14.3">
<path d="M174.7 35.6 H202.6" stroke="#ff0000" stroke-width="2"/>
<text x="209.1" y="41.6" fill="#ff0000">"1 loop"</text>
<path d="M174.7 62.6 H202.6" stroke="#000" stroke-width="2" stroke-dasharray="6 2.05" stroke-dashoffset="1.9"/>
<text x="209.1" y="68.4" fill="#000">"2 loop"</text>
<g stroke="#909090" stroke-width="1.1"><line x1="176.60" x2="176.60" y1="81" y2="98.5"/><line x1="179.37" x2="179.37" y1="81" y2="98.5"/><line x1="182.14" x2="182.14" y1="81" y2="98.5"/><line x1="184.91" x2="184.91" y1="81" y2="98.5"/><line x1="187.68" x2="187.68" y1="81" y2="98.5"/><line x1="190.45" x2="190.45" y1="81" y2="98.5"/><line x1="193.22" x2="193.22" y1="81" y2="98.5"/><line x1="195.99" x2="195.99" y1="81" y2="98.5"/><line x1="198.76" x2="198.76" y1="81" y2="98.5"/><line x1="201.53" x2="201.53" y1="81" y2="98.5"/></g>
<text x="209.1" y="95.8" fill="#999999">heavy-bag</text>
<path d="M178 117.4 H202" stroke="#2e9b2e" stroke-width="2" stroke-dasharray="5.5 5.6 1.5 5.4"/>
<text x="209.1" y="123.3" fill="#2e9b2e">light-bag-200</text>
<path d="M174.7 144.5 H202.6" stroke="#2e9b2e" stroke-width="3"/>
<text x="209.1" y="150.9" fill="#2e9b2e">light-bag-155</text>
</g>
<text x="197.1" y="320.6" font-size="18" text-anchor="middle"><tspan font-style="italic">T/T</tspan><tspan font-style="italic" font-size="13" dy="5">c</tspan></text>
<g transform="translate(20.0,0) rotate(-90)" font-size="18" text-anchor="middle"><text transform="translate(-192.00,0.00) scale(1.0,1)" font-size="19">(</text><text transform="translate(-179.60,0.00) scale(1.0,1)" font-size="19">ε</text><text transform="translate(-166.60,0.00) scale(1.0,1)" font-size="19">-</text><text transform="translate(-154.70,0.00) scale(1.0,1)" font-size="19">3</text><text transform="translate(-142.50,0.00) scale(1.0,1)" font-size="19" font-style="italic">P</text><text transform="translate(-128.70,0.00) scale(1.0,1)" font-size="19">)</text><text transform="translate(-122.60,0.00) scale(1.0,1)" font-size="19" font-style="italic">/</text><text transform="translate(-115.20,0.00) scale(1.12,1)" font-size="19" font-style="italic">T</text><text transform="translate(-102.50,-7.80) scale(1.0,1)" font-size="13.5">4</text></g>
</svg></body></html>
